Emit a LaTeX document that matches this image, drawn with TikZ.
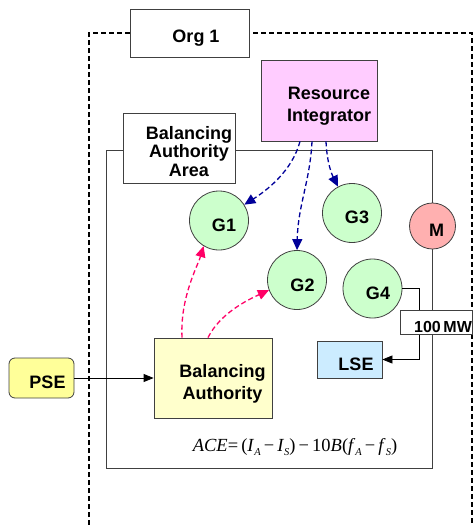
\documentclass[tikz,border=0pt]{standalone}
\usepackage{fontspec}
\setmainfont{Liberation Sans}
\newfontfamily\tms{Liberation Serif}
\usetikzlibrary{arrows.meta,calc}
\definecolor{ripink}{HTML}{FFCCFF}
\definecolor{gengreen}{HTML}{CCFFCC}
\definecolor{mred}{HTML}{FFB0B0}
\definecolor{lseblue}{HTML}{CCECFF}
\definecolor{bayellow}{HTML}{FFFFCC}
\definecolor{pseyellow}{HTML}{FFFF99}
\definecolor{riblue}{HTML}{000099}
\definecolor{bapink}{HTML}{FF0066}
\definecolor{edge}{HTML}{404040}
\newcommand{\lowsub}[1]{\raisebox{-4pt}{\fontsize{10.5}{11}\selectfont\itshape #1}}
\tikzset{
  box/.style={draw=edge,line width=0.8pt,rectangle,inner sep=0pt},
  gen/.style={draw=edge,line width=0.8pt,circle,inner sep=0pt,minimum size=59pt,fill=gengreen},
  lbl/.style={font=\fontsize{18}{18.5}\selectfont\bfseries,inner sep=0pt,align=center},
  riarrow/.style={draw=riblue,line width=1.3pt,dash pattern=on 5pt off 3pt,-{Triangle[length=11pt,width=10pt]}},
  baarrow/.style={draw=bapink,line width=1.3pt,dash pattern=on 5pt off 3pt,-{Triangle[length=11pt,width=10pt]}},
  flow/.style={draw=black,line width=0.8pt,-{Triangle[length=10pt,width=8pt]}},
}
\begin{document}
\begin{tikzpicture}[x=1pt,y=-1pt]
\useasboundingbox (0,0) rectangle (473,525);
% outer dashed organisation border
\coordinate (ob1) at (89,525);
\coordinate (ob2) at (89,33);
\coordinate (ob3) at (471.8,33);
\coordinate (ob4) at (471.8,525);
\draw[line width=1.6pt,dash pattern=on 5pt off 3pt] (ob1) -- (ob2) -- (ob3) -- (ob4);
% Org 1
\node[box,fill=white,minimum width=119pt,minimum height=48pt] (org) at (189.5,33) {};
\node[lbl] (orgt) at (196,38) {Org 1};
% balancing authority area rectangle
\coordinate (baa1) at (106,150);
\coordinate (baa2) at (432.5,468);
\draw[draw=edge,line width=0.8pt] (baa1) rectangle (baa2);
% BAA label
\node[box,fill=white,minimum width=112pt,minimum height=70pt] (baa) at (179,148) {};
\node[lbl,font=\fontsize{18}{18.5}\selectfont\bfseries] (baat) at (189,151.5) {Balancing\\Authority\\Area};
% Resource Integrator
\node[box,fill=ripink,minimum width=116pt,minimum height=81pt] (ri) at (319,100.5) {};
\node[lbl,font=\fontsize{18}{21.5}\selectfont\bfseries] (rit) at (329,106) {Resource\\Integrator};
% generators
\node[gen] (g1) at (219,220.5) {};
\node[lbl] (g1t) at (224,225) {G1};
\node[gen] (g2) at (297,280) {};
\node[lbl] (g2t) at (302.5,285) {G2};
\node[gen] (g3) at (352,213) {};
\node[lbl] (g3t) at (357,217.5) {G3};
\node[gen] (g4) at (372.5,288.5) {};
\node[lbl] (g4t) at (378,293) {G4};
\node[draw=edge,line width=0.8pt,circle,inner sep=0pt,minimum size=46pt,fill=mred] (m) at (432.5,226) {};
\node[lbl] (mt) at (436.5,230) {M};
% LSE
\node[box,fill=lseblue,minimum width=65pt,minimum height=37pt] (lse) at (349.5,359.5) {};
\node[lbl] (lset) at (356,364) {LSE};
% G4 to LSE
\draw[flow] (g4.east) -- ++(17,0) |- (lse.east);
% 100 MW
\node[box,fill=white,minimum width=72.5pt,minimum height=24pt] (mw) at (436.5,322) {};
\node[lbl,font=\fontsize{16}{17}\selectfont\bfseries] (mwt) at (443,327) {100\,MW};
% Balancing Authority
\node[box,fill=bayellow,minimum width=118pt,minimum height=80pt] (ba) at (213,378) {};
\node[lbl,font=\fontsize{18}{22}\selectfont\bfseries] (bat) at (222.5,383.5) {Balancing\\Authority};
% PSE
\node[draw=edge,line width=0.8pt,rounded corners=6pt,fill=pseyellow,minimum width=65pt,minimum height=40pt,inner sep=0pt] (pse) at (41.5,378) {};
\node[lbl] (pset) at (47.5,382) {PSE};
\draw[flow] (pse.east) -- (ba.west);
% resource integrator dispatch
\draw[riarrow] ([xshift=-19pt]ri.south) .. controls +(-8,30) and +(22,-14) .. (g1.32);
\draw[riarrow] ([xshift=-7pt]ri.south) .. controls +(-2,40) and +(1,-45) .. (g2.north);
\draw[riarrow] ([xshift=7pt]ri.south) .. controls +(1,22) and +(-6,-12) .. (g3.118);
% balancing authority
\draw[baarrow] ([xshift=-31pt]ba.north) .. controls +(-2,-40) and +(-6,20) .. (g1.239);
\draw[baarrow] ([xshift=-5pt]ba.north) .. controls +(12,-24) and +(-22,10) .. (g2.200);
% ACE formula
\node[inner sep=0pt,font=\tms\fontsize{18.5}{20}\selectfont] (ace) at (295,447) {\textit{ACE}=\,(\textit{I}\lowsub{A}\,−\,\textit{I}\lowsub{S})\,−\,10\textit{B}(\textit{f}\lowsub{A}\,−\,\textit{f}\lowsub{S})};
\end{tikzpicture}
\end{document}
